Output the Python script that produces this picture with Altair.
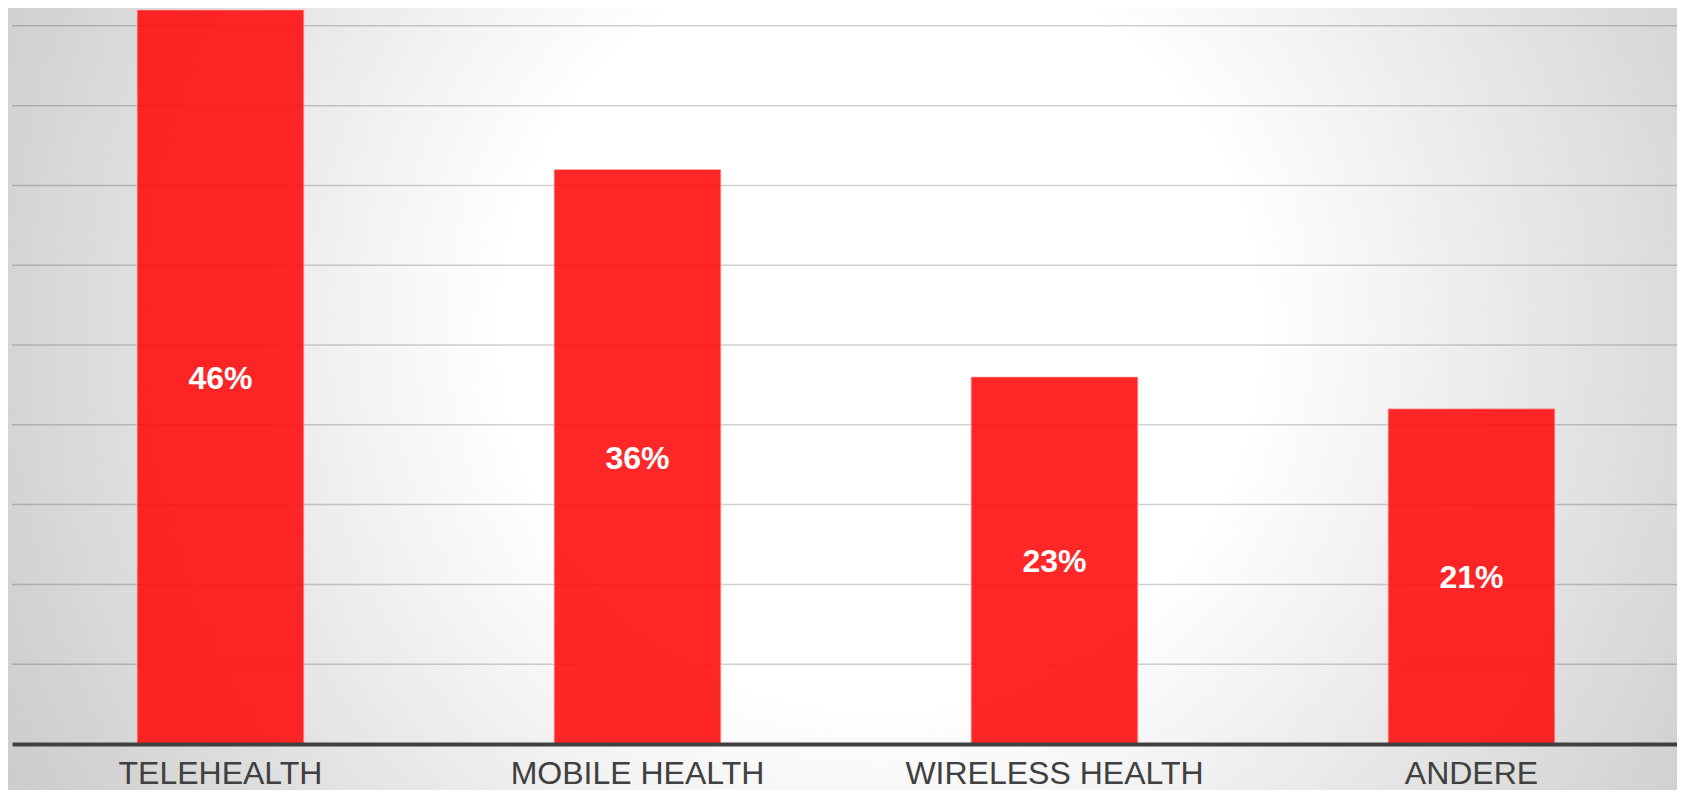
import altair as alt
import pandas as pd

categories = ["TELEHEALTH", "MOBILE HEALTH", "WIRELESS HEALTH", "ANDERE"]
values = [46, 36, 23, 21]
value_labels = ["46%", "36%", "23%", "21%"]
grid_values = [5, 10, 15, 20, 25, 30, 35, 40, 45]

df = pd.DataFrame({"cat": categories, "val": values, "label": value_labels})
grid_df = pd.DataFrame({"g": grid_values})

W, H = 1665, 736
PAD_L, PAD_R, PAD_T, PAD_B = 4, 0, 0, 46
FONT = "Liberation Sans"

x_scale = alt.Scale(domain=categories, paddingInner=0.6, paddingOuter=0.2964, align=0.506)
y_scale = alt.Scale(domain=[0, 46.12], nice=False, zero=True)

x_axis = alt.Axis(
    title=None, labelFontSize=32, labelFont=FONT, labelColor="#404040",
    labelPadding=39, labelBaseline="alphabetic", labelLimit=0, ticks=False, tickSize=0,
    domainColor="#404040", domainWidth=4, labelAngle=0, zindex=1, grid=False,
)

# radial background (centre relative to plot origin)
cx, cy, R = 868, 322, 1050
bg_fill = alt.RadialGradient(
    gradient="radial",
    x1=0.5, y1=0.5, r1=0,
    x2=0.5, y2=0.5, r2=0.5,
    stops=[
        alt.GradientStop(offset=0.0, color="#ffffff"),
        alt.GradientStop(offset=0.36, color="#ffffff"),
        alt.GradientStop(offset=0.57, color="#ececec"),
        alt.GradientStop(offset=0.86, color="#d2d2d2"),
        alt.GradientStop(offset=1.0, color="#c8c8c8"),
    ],
)
bg = alt.Chart(pd.DataFrame({"a": [0]})).mark_rect(fill=bg_fill).encode(
    x=alt.value(cx - R), x2=alt.value(cx + R),
    y=alt.value(cy - R), y2=alt.value(cy + R),
)

grid = alt.Chart(grid_df).mark_rule(color="#000000", opacity=0.18, strokeWidth=1.5).encode(
    y=alt.Y("g:Q", scale=y_scale, axis=None)
)

bars = alt.Chart(df).mark_bar(
    color="#ff1010", opacity=0.9, stroke="#ffb0b0", strokeWidth=1, strokeOpacity=0.7
).encode(
    x=alt.X("cat:N", scale=x_scale, sort=categories, axis=x_axis),
    y=alt.Y("val:Q", scale=y_scale, axis=None),
)

text = alt.Chart(df).transform_calculate(mid="datum.val / 2").mark_text(
    color="#ffffff", fontSize=32, fontWeight="bold", font=FONT, baseline="middle", dy=2
).encode(
    x=alt.X("cat:N", scale=x_scale, sort=categories, axis=x_axis),
    y=alt.Y("mid:Q", scale=y_scale, axis=None),
    text="label:N",
)

chart = alt.layer(bg, grid, bars, text).properties(
    width=W, height=H,
    padding={"left": PAD_L, "top": PAD_T, "right": PAD_R, "bottom": PAD_B},
    autosize=alt.AutoSizeParams(type="none"),
    background="#d0d0d0",
).configure_view(stroke="transparent")

chart.save("out.html", embed_options={"renderer": "svg", "actions": False})
